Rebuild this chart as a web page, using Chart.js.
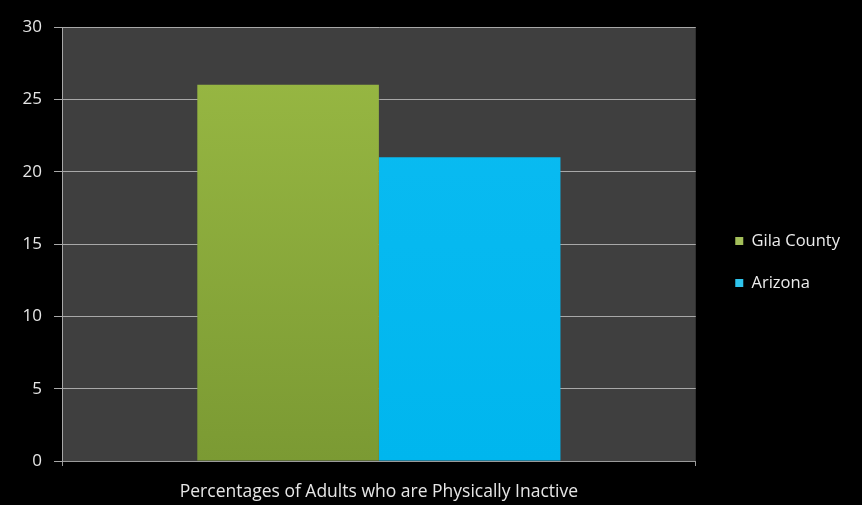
<!DOCTYPE html>
<html>
<head>
<meta charset="utf-8">
<script src="https://cdn.jsdelivr.net/npm/chart.js@4/dist/chart.umd.min.js"></script>
<style>
  html, body { margin: 0; padding: 0; background: #000; }
  #wrap { width: 862px; height: 505px; position: relative; }
</style>
</head>
<body>
<div id="wrap"><canvas id="grafico"></canvas></div>
<script>
// Datos del gráfico
const categorias = ['Percentages of Adults who are Physically Inactive'];
const series = ['Gila County', 'Arizona'];
const valoresGila = [26];
const valoresArizona = [21];
const ticksY = [0, 5, 10, 15, 20, 25, 30];

// Degradado vertical para cada barra
const degradado = (ctx, arriba, abajo) => {
    const area = ctx.chart.chartArea;
    if (!area) return arriba;
    const g = ctx.chart.ctx.createLinearGradient(0, area.top, 0, area.bottom);
    g.addColorStop(0, arriba);
    g.addColorStop(1, abajo);
    return g;
};

// Fondo gris del área de trazado
const fondoArea = {
    id: 'fondoArea',
    beforeDraw(chart) {
        const { ctx, chartArea: a } = chart;
        ctx.save();
        ctx.fillStyle = '#3f3f3f';
        ctx.fillRect(a.left, a.top, a.right - a.left, a.bottom - a.top);
        ctx.restore();
    }
};

// Separa un poco la leyenda del área de trazado
const moverLeyenda = {
    id: 'moverLeyenda',
    afterLayout(chart) {
        const l = chart.legend;
        if (!l) return;
        const dx = 14, dy = -4;
        l.left += dx; l.right += dx;
        l.top += dy; l.bottom += dy;
    }
};

const coloresLeyenda = ['#a3bf5a', '#2fc4ec'];

Chart.defaults.font.family = '"Open Sans", Lato, sans-serif';
Chart.defaults.color = '#e6e6e6';

new Chart(document.getElementById('grafico'), {
    type: 'bar',
    data: {
        labels: categorias,
        datasets: [
            { label: series[0], data: valoresGila, backgroundColor: c => degradado(c, '#9aba44', '#7b9a33'), borderWidth: 0 },
            { label: series[1], data: valoresArizona, backgroundColor: c => degradado(c, '#0cbcf2', '#00b6ee'), borderWidth: 0 }
        ]
    },
    options: {
        responsive: true, maintainAspectRatio: false, animation: false,
        layout: { padding: { top: 27, right: 26, bottom: 0, left: 0 } },
        datasets: { bar: { categoryPercentage: 0.573, barPercentage: 1 } },
        scales: {
            x: {
                grid: { display: true, drawOnChartArea: false, color: '#9a9a9a', tickLength: 5 },
                border: { color: '#9a9a9a' },
                ticks: { color: '#e6e6e6', font: { size: 17.5 }, padding: 16 },
                afterFit(s) { s.height = 44; }
            },
            y: {
                min: 0, max: 30,
                afterBuildTicks(s) { s.ticks = ticksY.map(v => ({ value: v })); },
                grid: { color: '#a8a8a8', tickLength: 8 },
                border: { color: '#a8a8a8' },
                ticks: { color: '#e6e6e6', font: { size: 17 }, padding: 12 },
                afterFit(s) { s.width = 62; }
            }
        },
        plugins: {
            legend: {
                position: 'right',
                labels: {
                    boxWidth: 8, boxHeight: 8, padding: 25.5, color: '#ececec', font: { size: 16.5 },
                    generateLabels(chart) {
                        return chart.data.datasets.map((d, i) => ({
                            text: d.label, fillStyle: coloresLeyenda[i], strokeStyle: coloresLeyenda[i],
                            lineWidth: 0, fontColor: '#ececec', datasetIndex: i, hidden: false
                        }));
                    }
                }
            },
            tooltip: { enabled: false }
        }
    },
    plugins: [fondoArea, moverLeyenda]
});
</script>
</body>
</html>
